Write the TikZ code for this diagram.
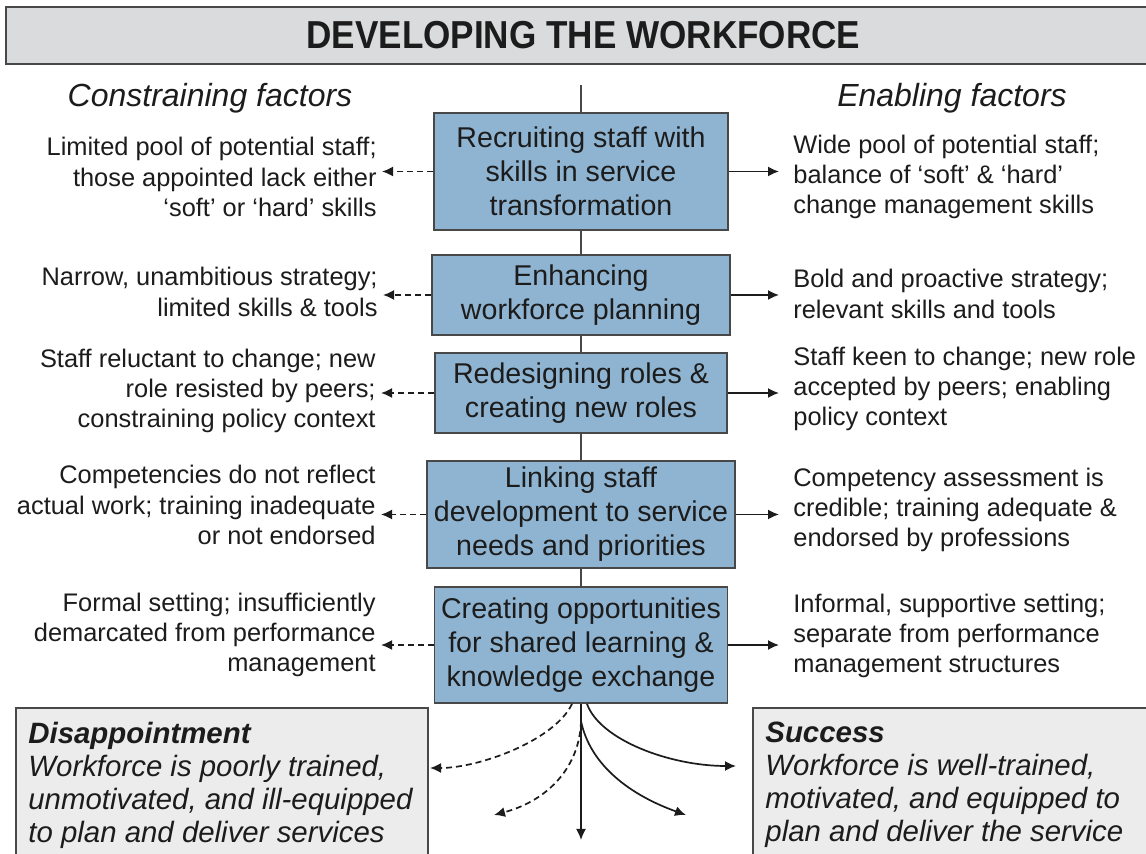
\documentclass[tikz,border=0pt]{standalone}
\usepackage{fontspec}
\setmainfont{Liberation Sans}
\usetikzlibrary{arrows.meta}
\definecolor{stageblue}{RGB}{143,180,209}
\definecolor{bargray}{RGB}{218,219,220}
\definecolor{outgray}{RGB}{236,236,236}
\definecolor{edgegray}{RGB}{72,72,72}
\definecolor{inkgray}{RGB}{28,28,28}
\begin{document}
\begin{tikzpicture}[x=0.5pt,y=-0.5pt,text=inkgray,
  stage/.style={draw=edgegray,line width=0.9pt,fill=stageblue,align=center,
    inner sep=0pt,font=\fontsize{14.3}{17}\selectfont},
  lefttext/.style={anchor=east,align=right,inner sep=0pt,font=\fontsize{12.7}{15.2}\selectfont},
  righttext/.style={anchor=west,align=left,inner sep=0pt,font=\fontsize{12.7}{15.2}\selectfont},
  heading/.style={font=\fontsize{16}{18}\selectfont\itshape},
  outbox/.style={draw=edgegray,line width=0.8pt,fill=outgray,anchor=north west,minimum height=90pt},
  outtext/.style={anchor=north west,align=left,inner xsep=6.5pt,inner ysep=7.5pt,
    font=\fontsize{14.7}{16.4}\selectfont\itshape},
  spine/.style={draw=edgegray,line width=1pt},
  cons/.style={draw=inkgray,line width=0.85pt,dash pattern=on 3pt off 2pt,-{Latex[length=5.5pt,width=5pt]}},
  enab/.style={draw=inkgray,line width=0.85pt,-{Latex[length=5.5pt,width=5pt]}}]
  \useasboundingbox (0,0) rectangle (1146,854);
  \fill[white] (0,0) rectangle (1146,854);

  \node[draw=edgegray,line width=0.9pt,fill=bargray,anchor=north west,minimum width=577.5pt,
    minimum height=28.5pt,inner sep=0pt] (title) at (5,6)
    {\scalebox{0.9}[1]{\fontsize{19.5}{20}\selectfont\bfseries DEVELOPING THE WORKFORCE}};

  \node[heading] (conshead) at (210,98) {Constraining factors};
  \node[heading] (enabhead) at (952,98) {Enabling factors};

  \node[stage,minimum width=147pt,minimum height=58.5pt] (s1) at (581,171.5)
    {Recruiting staff with\\skills in service\\transformation};
  \node[stage,minimum width=149pt,minimum height=40pt] (s2) at (581,295)
    {Enhancing\\workforce planning};
  \node[stage,minimum width=146pt,minimum height=40pt] (s3) at (581,393)
    {Redesigning roles \&\\creating new roles};
  \node[stage,minimum width=154pt,minimum height=53.5pt] (s4) at (581,514.5)
    {Linking staff\\development to service\\needs and priorities};
  \node[stage,minimum width=146.5pt,minimum height=58pt] (s5) at (581,645)
    {Creating opportunities\\for shared learning \&\\knowledge exchange};

  \node[lefttext] (c1) at (377,177) {Limited pool of potential staff;\\those appointed lack either\\‘soft’ or ‘hard’ skills};
  \node[lefttext] (c2) at (378,292) {Narrow, unambitious strategy;\\limited skills \& tools};
  \node[lefttext] (c3) at (376,391) {Staff reluctant to change; new\\role resisted by peers;\\constraining policy context};
  \node[lefttext] (c4) at (376,505) {Competencies do not reflect\\actual work; training inadequate\\or not endorsed};
  \node[lefttext] (c5) at (376,635) {Formal setting; insufficiently\\demarcated from performance\\management};

  \node[righttext] (e1) at (793,177) {Wide pool of potential staff;\\balance of ‘soft’ \& ‘hard’\\change management skills};
  \node[righttext] (e2) at (793,294) {Bold and proactive strategy;\\relevant skills and tools};
  \node[righttext] (e3) at (793,389) {Staff keen to change; new role\\accepted by peers; enabling\\policy context};
  \node[righttext] (e4) at (793,510) {Competency assessment is\\credible; training adequate \&\\endorsed by professions};
  \node[righttext] (e5) at (793,636) {Informal, supportive setting;\\separate from performance\\management structures};

  \node[outbox,minimum width=206pt] (lose) at (15,707) {};
  \node[outtext] (losetext) at (lose.north west)
    {\textbf{Disappointment}\\Workforce is poorly trained,\\unmotivated, and ill-equipped\\to plan and deliver services};
  \node[outbox,minimum width=220pt] (win) at (752,707) {};
  \node[outtext] (wintext) at (win.north west)
    {\textbf{Success}\\Workforce is well-trained,\\motivated, and equipped to\\plan and deliver the service};

  \coordinate (top) at (581,85);
  \coordinate (fan) at (581,721);
  \coordinate (down) at (581,840);
  \coordinate (d1) at (430,768);
  \coordinate (d2) at (494,815);
  \coordinate (w1) at (736,766);
  \coordinate (w2) at (686,815);

  \draw[spine] (top) -- (s1.north);
  \draw[spine] (s1.south) -- (s2.north);
  \draw[spine] (s2.south) -- (s3.north);
  \draw[spine] (s3.south) -- (s4.north);
  \draw[spine] (s4.south) -- (s5.north);
  \draw[enab] (s5.south) -- (down);

  \foreach \n in {1,...,5} {
    \draw[cons,shorten >=2.5pt] (s\n.west) -- (s\n.west -| c\n.east);
    \draw[enab,shorten >=7pt] (s\n.east) -- (s\n.east -| e\n.west);
  }

  \draw[cons] ([xshift=-4.5pt]s5.south) .. controls (555,740) and (480,768) .. (d1);
  \draw[cons] (fan) .. controls (580,765) and (550,800) .. (d2);
  \draw[enab] ([xshift=3pt]s5.south) .. controls (600,740) and (670,766) .. (w1);
  \draw[enab] (fan) .. controls (590,765) and (630,795) .. (w2);
\end{tikzpicture}
\end{document}
